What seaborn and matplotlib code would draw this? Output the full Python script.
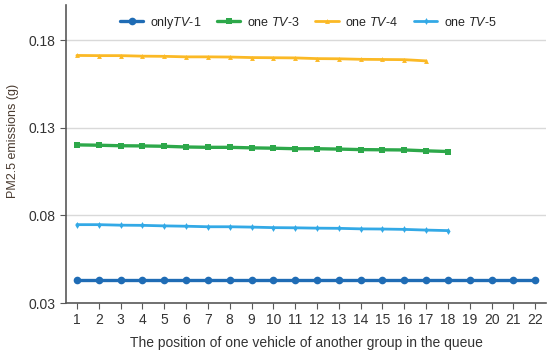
import numpy as np
import pandas as pd
import matplotlib
matplotlib.use("Agg")
import matplotlib.pyplot as plt
import seaborn as sns

# Datos
posiciones = list(range(1, 23))
only_tv1 = [0.0433] * 22
one_tv3 = [0.1202, 0.1200, 0.1197, 0.1196, 0.1194, 0.1190, 0.1188, 0.1188, 0.1185,
           0.1183, 0.1180, 0.1180, 0.1178, 0.1175, 0.1174, 0.1173, 0.1168, 0.1164]
one_tv4 = [0.1712, 0.1711, 0.1711, 0.1708, 0.1707, 0.1704, 0.1704, 0.1703, 0.1700,
           0.1699, 0.1698, 0.1694, 0.1693, 0.1690, 0.1689, 0.1688, 0.1681]
one_tv5 = [0.0747, 0.0747, 0.0744, 0.0743, 0.0740, 0.0738, 0.0735, 0.0735, 0.0733,
           0.0730, 0.0729, 0.0727, 0.0726, 0.0723, 0.0722, 0.0720, 0.0716, 0.0713]

nombres = [r"only$\mathit{TV}$-1", r"one $\mathit{TV}$-3", r"one $\mathit{TV}$-4", r"one $\mathit{TV}$-5"]
colores = ["#1f6cb5", "#2da84a", "#fbb925", "#33a9e6"]
marcadores = ["o", "s", "^", "d"]
tamanos = [5.5, 5.0, 3.5, 3.5]
grosores = [2.4, 2.4, 2.0, 2.0]

sns.set_style("white")
plt.rcParams["font.family"] = ["Liberation Sans", "DejaVu Sans"]
plt.rcParams["mathtext.fontset"] = "custom"
plt.rcParams["mathtext.rm"] = "Liberation Sans"
plt.rcParams["mathtext.it"] = "Liberation Sans:italic"

fig = plt.figure(figsize=(5.5, 3.54), dpi=100)
ax = fig.add_axes([0.12, 0.144, 0.873, 0.842])

for nombre, serie, color, marca, tam, grosor in zip(
        nombres, [only_tv1, one_tv3, one_tv4, one_tv5], colores, marcadores, tamanos, grosores):
    sns.lineplot(x=posiciones[:len(serie)], y=serie, color=color, marker=marca,
                 markersize=tam, markeredgewidth=0, linewidth=grosor, label=nombre, ax=ax)

ax.set_xlim(0.5, 22.5)
ax.set_ylim(0.03, 0.20)
ax.set_xticks(posiciones)
ax.set_yticks([0.03, 0.08, 0.13, 0.18])
ax.set_yticklabels(["0.03", "0.08", "0.13", "0.18"])
ax.yaxis.grid(True, color="#d9d9d9", linewidth=1)
ax.set_axisbelow(True)

for lado in ["top", "right"]:
    ax.spines[lado].set_visible(False)
for lado in ["left", "bottom"]:
    ax.spines[lado].set_color("#595959")
    ax.spines[lado].set_linewidth(1.2)
ax.tick_params(axis="both", direction="out", length=4, color="#595959",
               labelsize=10, labelcolor="#333333", left=True, bottom=True)

ax.set_xlabel("The position of one vehicle of another group in the queue",
              fontsize=10, color="#333333", labelpad=6)
ax.set_ylabel("PM2.5 emissions (g)", fontsize=9, color="#4a3b30")
ax.yaxis.set_label_coords(-0.098, 0.545)

ax.legend(loc="center", bbox_to_anchor=(0.505, 0.94), ncol=4, frameon=False,
          fontsize=9, handlelength=1.85, columnspacing=1.25, handletextpad=0.55,
          borderaxespad=0)

fig.savefig("out.png", dpi=100)
plt.close(fig)
